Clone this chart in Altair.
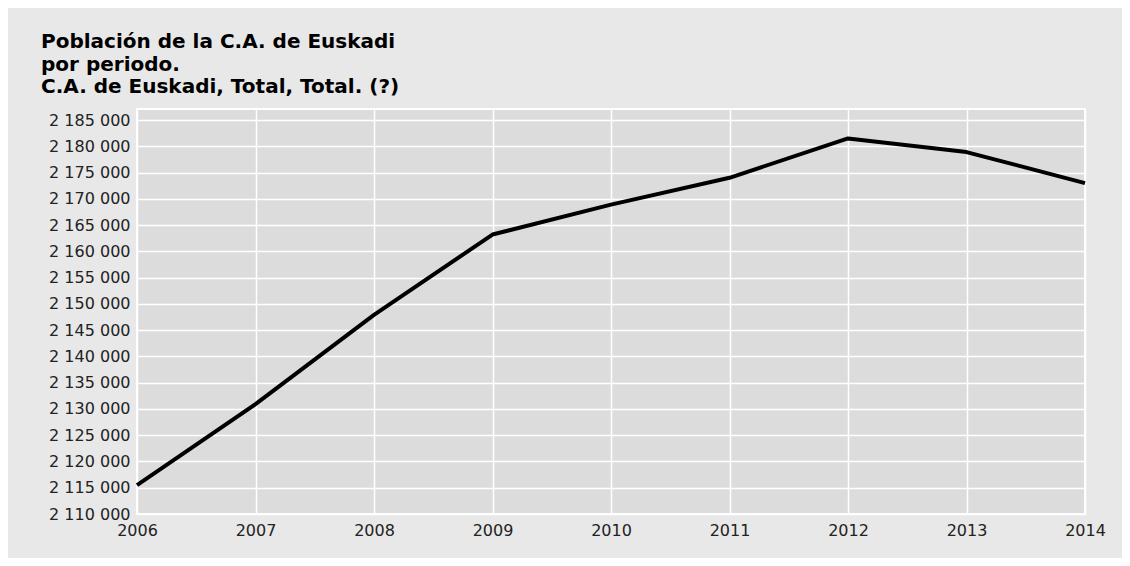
import altair as alt
import pandas as pd

years = [2006, 2007, 2008, 2009, 2010, 2011, 2012, 2013, 2014]
population = [2115500, 2130900, 2147900, 2163200, 2168900, 2174000, 2181500, 2178900, 2173000]
y_ticks = list(range(2110000, 2185001, 5000))
title_lines = ["Población de la C.A. de Euskadi", "por periodo.", "C.A. de Euskadi, Total, Total. (?)"]

df = pd.DataFrame({"year": years, "population": population})

line = alt.Chart(df).mark_line(color="#000000", strokeWidth=4, strokeJoin="round").encode(
    x=alt.X("year:Q",
            scale=alt.Scale(domain=[2006, 2014], nice=False, zero=False),
            axis=alt.Axis(values=years, format="d", title=None, labelFont="DejaVu Sans",
                          labelFontSize=16, labelColor="#222222", labelPadding=8,
                          ticks=False, domain=False, gridColor="#ffffff", gridWidth=1.5,
                          gridOpacity=1, labelFlush=False, labelOverlap=False)),
    y=alt.Y("population:Q",
            scale=alt.Scale(domain=[2110000, 2187100], nice=False, zero=False),
            axis=alt.Axis(values=y_ticks, title=None, labelFont="DejaVu Sans",
                          labelFontSize=16, labelColor="#222222", labelPadding=7,
                          ticks=False, domain=False, gridColor="#ffffff", gridWidth=1.5,
                          gridOpacity=1, labelFlush=False, labelOverlap=False,
                          labelExpr="replace(format(datum.value, ',d'), regexp(',', 'g'), ' ')")),
)

chart = line.properties(
    width=948,
    height=405,
    title=alt.TitleParams(text=title_lines, anchor="start", frame="group", dx=-96,
                          font="DejaVu Sans", fontSize=20, fontWeight="bold",
                          color="#000000", lineHeight=22.5, offset=12),
    background="#e8e8e8",
    padding={"left": 129, "top": 101, "right": 37, "bottom": 44},
    autosize=alt.AutoSizeParams(type="none"),
).configure_view(
    fill="#dcdcdc", stroke="#ffffff", strokeWidth=2
)

chart.save("out.html", embed_options={"renderer": "svg", "actions": False})
